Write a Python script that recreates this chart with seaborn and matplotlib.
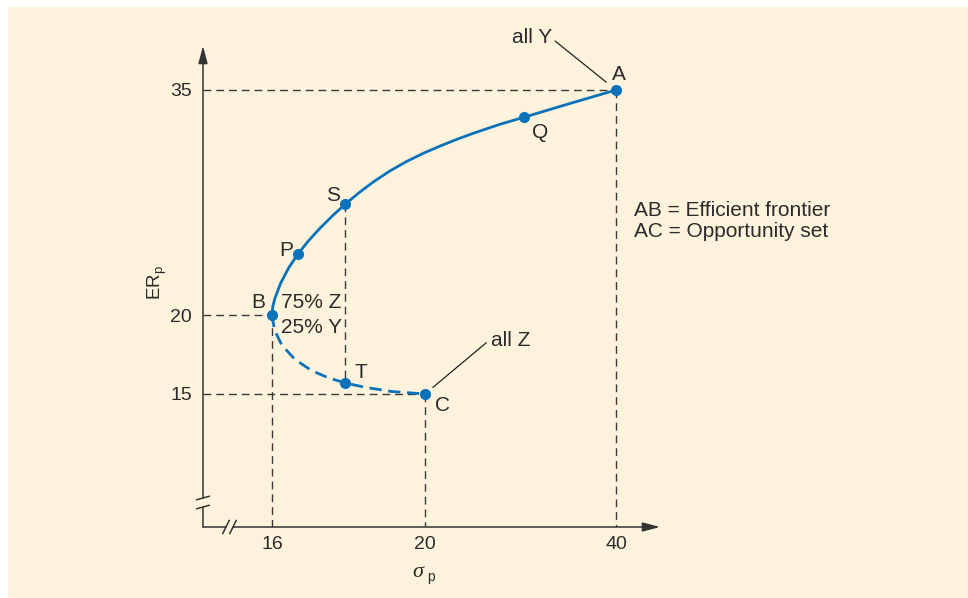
import numpy as np
import matplotlib
matplotlib.use("Agg")
import matplotlib.pyplot as plt
import seaborn as sns
from matplotlib.patches import Rectangle
from matplotlib.lines import Line2D

# ---- data -------------------------------------------------------------
# upper branch of the opportunity set (efficient frontier), from B to A
frontier_sigma = [16.000, 16.018, 16.076, 16.225, 16.429, 16.672, 16.933, 17.252,
                  17.597, 17.908, 18.275, 18.646, 19.085, 19.522, 19.961, 21.592,
                  23.319, 25.047, 27.874, 30.387, 34.995, 40.000]
frontier_er = [20.000, 20.533, 21.113, 22.113, 23.113, 24.047, 24.887, 25.780,
               26.653, 27.373, 28.153, 28.867, 29.607, 30.240, 30.787, 31.267,
               31.707, 32.113, 32.720, 33.187, 34.067, 35.000]

# lower (inefficient) branch, from B to C
lower_sigma = [16.000, 16.065, 16.254, 16.601, 17.038, 17.472, 17.908, 18.431, 19.129, 20.000]
lower_er = [20.000, 19.057, 18.101, 17.184, 16.481, 16.025, 15.703, 15.424, 15.158, 15.000]

# named portfolios
point_names = ["A", "Q", "S", "P", "B", "T", "C"]
point_sigma = [40.000, 30.387, 17.908, 16.672, 16.000, 17.908, 20.000]
point_er = [35.000, 33.187, 27.373, 24.047, 20.000, 15.703, 15.000]

x_ticks = [16, 20, 40]
y_ticks = [15, 20, 35]

legend_lines = ["AB = Efficient frontier", "AC = Opportunity set"]

# ---- style --------------------------------------------------------------
BLUE = "#0a72bb"
INK = "#2b2b2b"
BG = "#fdf3dc"
W, H = 968, 598

sns.set_style("white")
plt.rcParams["font.family"] = ["Liberation Sans", "DejaVu Sans"]
plt.rcParams["mathtext.fontset"] = "custom"
plt.rcParams["mathtext.rm"] = "Liberation Sans"
plt.rcParams["mathtext.it"] = "Liberation Sans:italic"
FS = 15      # annotation text
FS_TICK = 14


def piecewise_scale(knots, spots):
    """Piecewise-linear axis scale: tick values `knots` sit at `spots`."""
    k = np.asarray(knots, float)
    s = np.asarray(spots, float)

    def make(a, b):
        s0 = (b[1] - b[0]) / (a[1] - a[0])
        s1 = (b[-1] - b[-2]) / (a[-1] - a[-2])

        def f(v):
            v = np.asarray(v, float)
            out = np.interp(v, a, b)
            out = np.where(v < a[0], b[0] + (v - a[0]) * s0, out)
            out = np.where(v > a[-1], b[-1] + (v - a[-1]) * s1, out)
            return out
        return f

    return make(k, s), make(s, k)


fig = plt.figure(figsize=(W / 100, H / 100), dpi=100, facecolor="white")
fig.patches.append(Rectangle((8 / W, 0), 1, 1 - 7 / H, transform=fig.transFigure,
                             facecolor=BG, edgecolor="none", zorder=-10))

# axes box: origin at the corner of the two axis lines, top/right at the arrow tips
ax_w, ax_h = 457, 481
ax = fig.add_axes([203 / W, (H - 527) / H, ax_w / W, ax_h / H])
ax.set_zorder(2)
ax.patch.set_alpha(0)
for sp in ax.spines.values():
    sp.set_visible(False)

# schematic (non-uniform) spacing of the tick values along each axis
xfwd, xinv = piecewise_scale(x_ticks, [69, 222, 413])
yfwd, yinv = piecewise_scale(y_ticks, [133, 212, 437])

# ---- curves and points ----------------------------------------------------
sns.lineplot(x=frontier_sigma, y=frontier_er, sort=False, estimator=None, ax=ax,
             color=BLUE, lw=2.0, solid_joinstyle="round", solid_capstyle="round", zorder=3)
sns.lineplot(x=lower_sigma, y=lower_er, sort=False, estimator=None, ax=ax,
             color=BLUE, lw=2.0, linestyle=(0, (4.4, 2.4)), dash_joinstyle="round",
             zorder=3)
sns.scatterplot(x=point_sigma, y=point_er, ax=ax, color=BLUE, s=64, linewidth=0, zorder=4)

ax.set_xscale("function", functions=(xfwd, xinv))
ax.set_yscale("function", functions=(yfwd, yinv))
x0, x1 = float(xinv(0)), float(xinv(ax_w))
y0, y1 = float(yinv(0)), float(yinv(ax_h))
ax.set_xlim(x0, x1)
ax.set_ylim(y0, y1)

# ---- dashed guide lines ----------------------------------------------------
P = dict(zip(point_names, zip(point_sigma, point_er)))
guide = dict(color="#3a3a3a", lw=1.0, linestyle=(0, (5.6, 3.6)), zorder=2)
for name in ["A", "B", "C"]:
    s, e = P[name]
    ax.plot([x0, s], [e, e], **guide)
    ax.plot([s, s], [e, y0], **guide)
ax.plot([P["S"][0], P["T"][0]], [P["S"][1], P["T"][1]], **guide)

# ---- ticks -----------------------------------------------------------------
ax.set_xticks(x_ticks, [str(t) for t in x_ticks])
ax.set_yticks(y_ticks, [str(t) for t in y_ticks])
ax.minorticks_off()
ax.tick_params(axis="x", length=0, pad=6.5, labelsize=FS_TICK, labelcolor=INK)
ax.tick_params(axis="y", length=0, pad=8, labelsize=FS_TICK, labelcolor=INK)
ax.set_xlabel("")
ax.set_ylabel("")

# ---- axis lines with arrows and break marks ----------------------------------
arrow = dict(arrowstyle="-|>,head_length=1.05,head_width=0.28", color="#333333",
             lw=1.1, shrinkA=0, shrinkB=0, mutation_scale=10)
axis_kw = dict(color="#333333", lw=1.1, transform=ax.transAxes, clip_on=False)

ybreak = ((527 - 507) / ax_h, (527 - 498) / ax_h)
ax.add_line(Line2D([0, 0], [0, ybreak[0]], **axis_kw))
ax.annotate("", xy=(0, 1), xytext=(0, ybreak[1]), xycoords="axes fraction",
            textcoords="axes fraction", arrowprops=arrow)
for yc in ybreak:
    ax.add_line(Line2D([-6.5 / ax_w, 6.5 / ax_w], [yc - 1.8 / ax_h, yc + 1.8 / ax_h], **axis_kw))

xbreak = ((226 - 203) / ax_w, (233 - 203) / ax_w)
ax.add_line(Line2D([0, xbreak[0]], [0, 0], **axis_kw))
ax.annotate("", xy=(1, 0), xytext=(xbreak[1], 0), xycoords="axes fraction",
            textcoords="axes fraction", arrowprops=arrow)
for xc in xbreak:
    ax.add_line(Line2D([xc - 3.3 / ax_w, xc + 3.3 / ax_w], [-6.7 / ax_h, 6.7 / ax_h], **axis_kw))

# ---- point labels ------------------------------------------------------------
label_offsets = {"A": (2, 7.2), "Q": (11.8, -14.8), "S": (-8.9, 2.3), "P": (-8.1, -1.4),
                 "B": (-10.2, 5.2), "T": (11.8, 3.8), "C": (12.4, -12.4)}
for name in point_names:
    ax.annotate(name, xy=P[name], xytext=label_offsets[name], textcoords="offset points",
                ha="center", va="baseline", fontsize=FS, color=INK, zorder=5)

ax.annotate("75% Z", xy=P["B"], xytext=(6.6, 5.2), textcoords="offset points",
            ha="left", va="baseline", fontsize=FS, color=INK)
ax.annotate("25% Y", xy=P["B"], xytext=(6.6, -12.8), textcoords="offset points",
            ha="left", va="baseline", fontsize=FS, color=INK)

# leader lines for the single-asset portfolios
lead = dict(arrowstyle="-", color="#222222", lw=0.9, shrinkA=0)
ax.annotate("", xy=P["A"], xytext=(-43.9, 35.3), textcoords="offset points",
            arrowprops=dict(lead, shrinkB=9))
ax.annotate("all Y", xy=P["A"], xytext=(-60.7, 34.1), textcoords="offset points",
            ha="center", va="baseline", fontsize=FS, color=INK)
ax.annotate("", xy=P["C"], xytext=(44.1, 36.9), textcoords="offset points",
            arrowprops=dict(lead, shrinkB=7.4))
ax.annotate("all Z", xy=P["C"], xytext=(61.8, 34.9), textcoords="offset points",
            ha="center", va="baseline", fontsize=FS, color=INK)

# key text beside the chart
fig.text(634 / W, 1 - 216 / H, legend_lines[0], ha="left", va="baseline",
         fontsize=FS, color=INK)
fig.text(634 / W, 1 - 237 / H, legend_lines[1], ha="left", va="baseline",
         fontsize=FS, color=INK)

# axis titles
fig.text(157 / W, 1 - 283 / H, r"ER$_{\mathrm{p}}$", rotation=90, ha="center",
         va="center", fontsize=13.5, color=INK)
fig.text(418 / W, 1 - 577 / H, "σ", ha="center", va="baseline", fontsize=16,
         style="italic", family=["Liberation Serif", "DejaVu Serif"], color=INK)
fig.text(431 / W, 1 - 581 / H, "p", ha="center", va="baseline", fontsize=10, color=INK)

fig.savefig("out.png", dpi=100, facecolor=fig.get_facecolor())
